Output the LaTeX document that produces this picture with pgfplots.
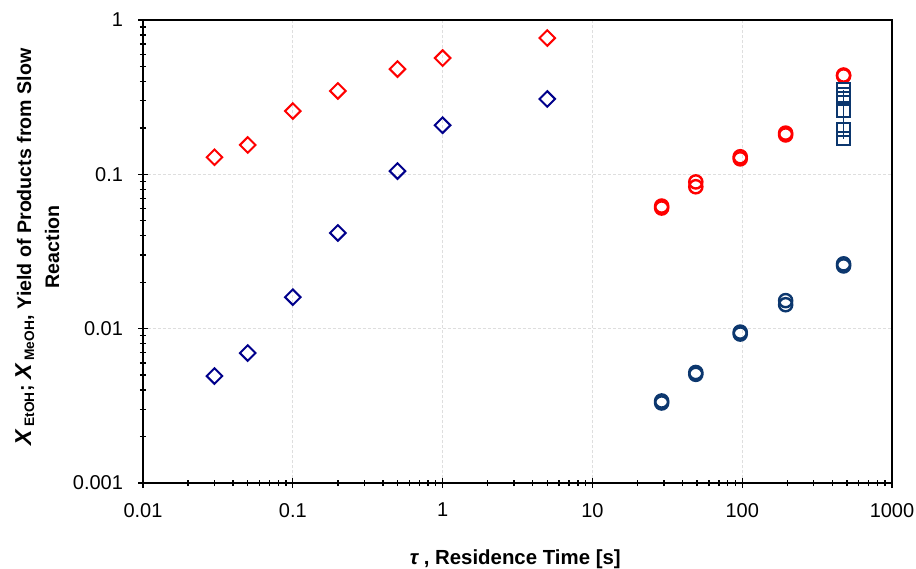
\documentclass[border=0pt]{standalone}
\usepackage{fontspec}
\setmainfont{Liberation Sans}
\usepackage{pgfplots}
\pgfplotsset{compat=1.18}
\definecolor{redc}{RGB}{255,0,0}
\definecolor{navyd}{RGB}{0,0,139}
\definecolor{navyc}{RGB}{12,55,110}
\definecolor{gridc}{RGB}{222,222,222}
\newcommand{\bigX}{{\fontsize{11.5}{14}\selectfont\itshape X}}
\begin{document}
\begin{tikzpicture}
\path[use as bounding box] (-71.5pt,-42.5pt) rectangle (386.5pt,241.5pt);
\begin{axis}[
 at={(0,0)}, anchor=south west,
 scale only axis, width=374.5pt, height=231.5pt,
 xmode=log, ymode=log,
 xmin=0.01, xmax=1000, ymin=0.001, ymax=1,
 xtick={0.01,0.1,1,10,100,1000},
 xticklabels={0.01,0.1,1,10,100,1000},
 ytick={0.001,0.01,0.1,1},
 yticklabels={0.001,0.01,0.1,1},
 axis line style={line width=1pt},
 tick style={black, line width=0.7pt},
 tick align=center, major tick length=5pt, minor tick length=3pt,
 xtick pos=bottom, ytick pos=left,
 grid=major, major grid style={gridc, dash pattern=on 1.5pt off 1pt, line width=0.6pt},
 ticklabel style={font=\fontsize{10}{12}\selectfont},
 xticklabel style={yshift=-4pt},
 yticklabel style={xshift=-4pt},
 xlabel={{\itshape τ} , Residence Time [s]},
 xlabel style={at={(axis description cs:0.497,-0.164)}, anchor=center, font=\bfseries\fontsize{10.2}{12}\selectfont},
 ylabel={\bigX\,\textsubscript{EtOH}; \bigX\,\textsubscript{MeOH}, Yield of Products from Slow\\Reaction},
 ylabel style={at={(axis description cs:-0.141,0.51)}, anchor=center, rotate=0, align=center, font=\bfseries\fontsize{9.8}{14}\selectfont},
]
% red diamonds
\addplot[only marks, draw=redc, mark=square, mark size=2.75pt, mark options={solid, rotate=45, line width=1pt}] coordinates {
(0.03,0.129) (0.05,0.155) (0.1,0.257) (0.2,0.347) (0.5,0.481) (1,0.567) (5,0.764)};
% navy diamonds
\addplot[only marks, draw=navyd, mark=square, mark size=2.75pt, mark options={solid, rotate=45, line width=1pt}] coordinates {
(0.03,0.00493) (0.05,0.00695) (0.1,0.016) (0.2,0.0417) (0.5,0.105) (1,0.208) (5,0.308)};
% red circles
\addplot[only marks, draw=redc, mark=o, mark size=3.3pt, mark options={solid, line width=1.2pt}] coordinates {
(29,0.0623) (29,0.0605) (49,0.0893) (49,0.0831) (97,0.130) (97,0.126) (195,0.185) (195,0.180) (475,0.434) (475,0.440)};
% navy circles
\addplot[only marks, draw=navyc, mark=o, mark size=3.3pt, mark options={solid, line width=1.2pt}] coordinates {
(29,0.0033) (29,0.0034) (49,0.00506) (49,0.0052) (97,0.00923) (97,0.0095) (195,0.0152) (195,0.0143) (475,0.0255) (475,0.0263)};
% navy squares
\addplot[navyc, line width=0.8pt] coordinates {(475,0.17) (475,0.35)};
\addplot[only marks, draw=navyc, mark=square, mark size=3.3pt, mark options={solid, line width=1pt}] coordinates {
(475,0.356) (475,0.327) (475,0.311) (475,0.261) (475,0.196) (475,0.171)};
\end{axis}
\end{tikzpicture}
\end{document}
